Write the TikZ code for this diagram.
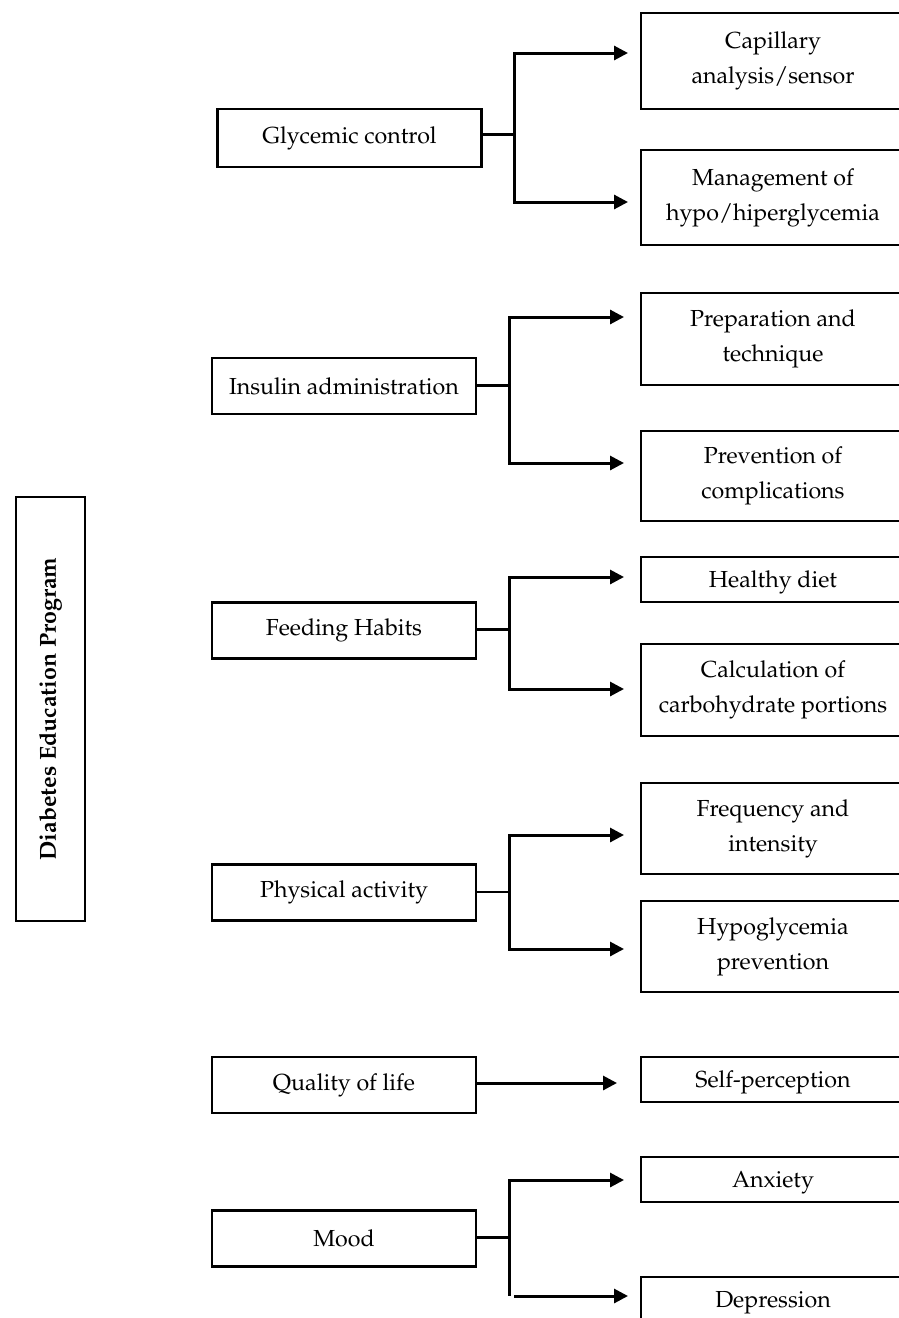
\documentclass[tikz,border=0pt]{standalone}
\usepackage[T1]{fontenc}
\usepackage{mathpazo}
\usetikzlibrary{arrows.meta}
\tikzset{
  box/.style={draw, line width=1.25pt, inner sep=2pt, align=center, font=\fontsize{11.6}{17.5}\selectfont},
  lbox/.style={box, minimum width=132pt, minimum height=28pt},
  rbox/.style={box, minimum width=132pt},
  rsingle/.style={rbox, minimum height=22.5pt, text depth=0pt},
  progbox/.style={box, rotate=90, minimum width=212pt, minimum height=34.5pt, font=\fontsize{11.6}{17.5}\selectfont\bfseries},
  link/.style={line width=1.5pt},
  thinlink/.style={line width=0.7pt},
  arr/.style={link, -{Triangle[length=7pt,width=7pt]}}
}
\begin{document}
\begin{tikzpicture}[x=0.5pt, y=-0.5pt]
	%%%%% START %%%%%
	\useasboundingbox (0,0) rectangle (899,1318);
	\clip (0,0) rectangle (899,1318);
	\fill[white] (0,0) rectangle (899,1318);
	
	\node[progbox] (prog) at (50.5, 709) {Diabetes Education Program};
	
	% left column
	\node[lbox, minimum height=29pt] (glyc) at (349.5, 138) {Glycemic control};
	\node[lbox] (insu) at (344, 386) {Insulin administration};
	\node[lbox] (feed) at (344, 630.5) {Feeding Habits};
	\node[lbox] (phys) at (344, 892.5) {Physical activity};
	\node[lbox] (qual) at (344, 1085) {Quality of life};
	\node[lbox] (mood) at (344, 1238.5) {Mood};
	
	% right column
	\node[rbox, minimum height=48pt] (cap) at (773, 61) {Capillary\\analysis/sensor};
	\node[rbox, minimum height=47.5pt] (mgmt) at (773, 197.5) {Management of\\hypo/hiperglycemia};
	\node[rbox, minimum height=46pt] (prep) at (773, 339) {Preparation and\\technique};
	\node[rbox, minimum height=45pt] (prev) at (773, 476) {Prevention of\\complications};
	\node[rsingle] (diet) at (773, 579.5) {Healthy diet};
	\node[rbox, minimum height=46pt] (carb) at (773, 690) {Calculation of\\carbohydrate portions};
	\node[rbox, minimum height=45.5pt] (freq) at (773, 828.5) {Frequency and\\intensity};
	\node[rbox, minimum height=45.5pt] (hypo) at (773, 946.5) {Hypoglycemia\\prevention};
	\node[rsingle] (self) at (773, 1079.5) {Self-perception};
	\node[rsingle] (anx) at (773, 1179.5) {Anxiety};
	\node[rsingle] (dep) at (773, 1299.5) {Depression};
	
	% junctions and arrow tips
	\coordinate (glyc-j) at (514, 134);
	\coordinate (cap-tip) at (628, 53);
	\coordinate (mgmt-tip) at (628, 202);
	\coordinate (insu-j) at (509, 385);
	\coordinate (prep-tip) at (624, 317);
	\coordinate (prev-tip) at (624, 463);
	\coordinate (feed-j) at (509, 629);
	\coordinate (diet-tip) at (624, 577);
	\coordinate (carb-tip) at (624, 689);
	\coordinate (phys-j) at (509, 892);
	\coordinate (freq-tip) at (624, 835);
	\coordinate (hypo-tip) at (624, 949);
	\coordinate (self-tip) at (617, 1083);
	\coordinate (mood-j) at (509, 1237);
	\coordinate (anx-tip) at (624, 1180);
	\coordinate (dep-tip) at (628, 1296);
	
	\draw[link] (glyc.east |- glyc-j) -- (glyc-j);
	\draw[arr] (glyc-j) |- (cap-tip);
	\draw[arr] (glyc-j) |- (mgmt-tip);
	
	\draw[link] (insu.east |- insu-j) -- (insu-j);
	\draw[arr] (insu-j) |- (prep-tip);
	\draw[arr] (insu-j) |- (prev-tip);
	
	\draw[link] (feed.east |- feed-j) -- (feed-j);
	\draw[arr] (feed-j) |- (diet-tip);
	\draw[arr] (feed-j) |- (carb-tip);
	
	\draw[thinlink] (phys.east |- phys-j) -- (phys-j);
	\draw[arr] (phys-j) |- (freq-tip);
	\draw[arr] (phys-j) |- (hypo-tip);
	
	\draw[arr] (qual.east |- self-tip) -- (self-tip);
	
	\draw[link] (mood.east |- mood-j) -- (mood-j);
	\draw[arr] (mood-j) |- (anx-tip);
	\draw[link] (mood-j) -- (mood-j |- dep-tip);
	\draw[arr] ([xshift=2.5pt]mood-j |- dep-tip) -- (dep-tip);
	
	%%%%% END %%%%%
\end{tikzpicture}
\end{document}
